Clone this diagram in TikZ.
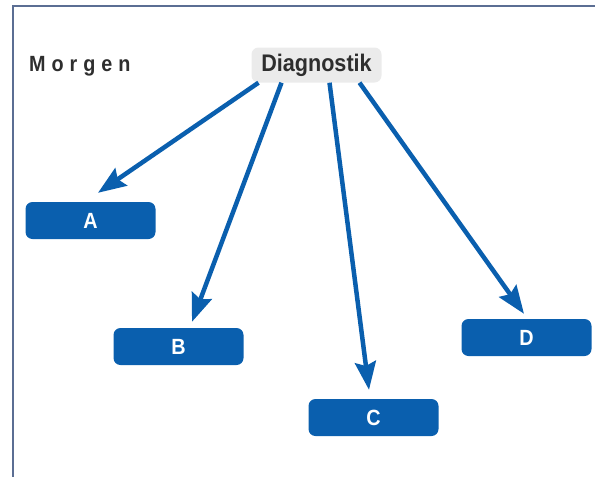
\documentclass[tikz,border=0pt]{standalone}
\usepackage{fontspec}
\setmainfont{Liberation Sans}[FakeStretch=0.9]
\usetikzlibrary{arrows.meta}
\usepackage{xcolor}
\definecolor{boxblue}{HTML}{0A5FAE}
\definecolor{framegray}{HTML}{5B6E93}
\definecolor{textgray}{HTML}{2E2E2E}
\definecolor{headgray}{HTML}{EBEBEB}

\begin{document}
\begin{tikzpicture}[x=1pt,y=-1pt,>={Stealth[length=28pt,width=21pt,inset=4pt]},
  letter/.style={rectangle,rounded corners=7pt,fill=boxblue,text=white,
    minimum width=130pt,minimum height=37pt,font=\bfseries\fontsize{22}{22}\selectfont},
  head/.style={rectangle,rounded corners=7pt,fill=headgray,text=textgray,
    minimum width=130pt,minimum height=35pt,inner sep=0pt,font=\bfseries\fontsize{24}{24}\selectfont},
  link/.style={->,line width=4.5pt,draw=boxblue}]
  \useasboundingbox (0,0) rectangle (595,477);

  \draw[line width=2pt,draw=framegray] (13,477) -- (13,6) -- (595,6);

  \node[text=textgray,anchor=west,inner sep=0pt,font=\bfseries\fontsize{22}{22}\selectfont\addfontfeatures{LetterSpace=27}](morgen) at (29,66) {Morgen};
  \node[head](diag) at (316.5,65) {Diagnostik};

  \node[letter](a) at (90.5,220.5) {A};
  \node[letter](b) at (178.5,346.5) {B};
  \node[letter](c) at (373.5,417.5) {C};
  \node[letter](d) at (526.5,337.5) {D};

  \draw[link] ([xshift=-58pt]diag.south) -- ([xshift=7.5pt,yshift=9pt]a.north);
  \draw[link] ([xshift=-35pt]diag.south) -- ([xshift=13.5pt,yshift=6pt]b.north);
  \draw[link] ([xshift=13pt]diag.south) -- ([xshift=-4.5pt,yshift=9pt]c.north);
  \draw[link] ([xshift=43pt]diag.south) -- ([xshift=-2.5pt,yshift=5pt]d.north);
\end{tikzpicture}
\end{document}
